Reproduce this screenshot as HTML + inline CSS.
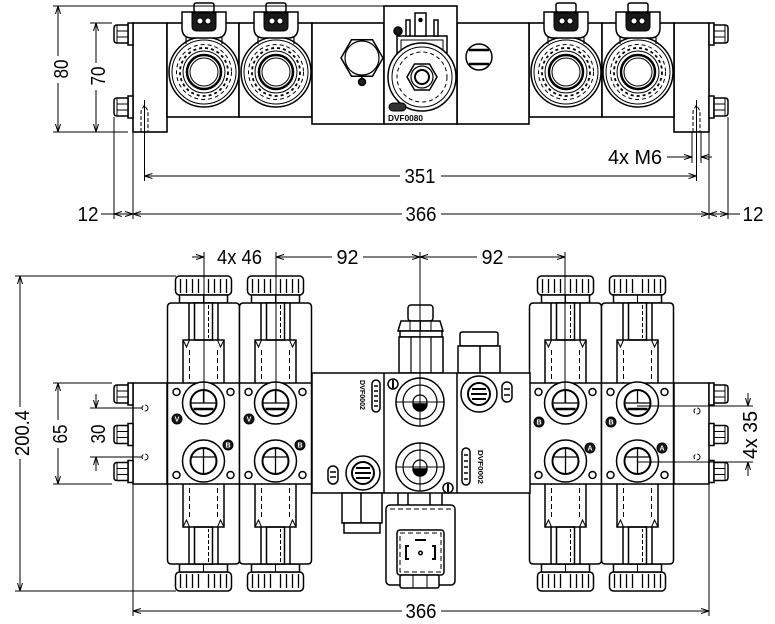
<!DOCTYPE html>
<html><head><meta charset="utf-8"><style>
html,body{margin:0;padding:0;background:#fff;}
svg{display:block;}
text{font-family:"Liberation Sans",Arial,sans-serif;fill:#000;stroke:none;}
</style></head><body>
<svg width="775" height="624" viewBox="0 0 775 624" xmlns="http://www.w3.org/2000/svg">
<defs>
<marker id="ar" viewBox="0 0 8 6" refX="8" refY="3" markerWidth="8" markerHeight="6" markerUnits="userSpaceOnUse" orient="auto"><path d="M0,0.5 L8,3 L0,5.5" fill="none" stroke="#000" stroke-width="1"/></marker>

<g id="tc" stroke="#000" fill="none">
 <circle r="35" stroke-width="1.5" fill="#fff"/>
 <circle r="32" stroke-width="1"/>
 <circle r="27.5" stroke-width="1" stroke-dasharray="4 3"/>
 <circle r="24" stroke-width="1.8" stroke-dasharray="3 3"/>
 <circle r="21" stroke-width="1"/>
 <circle r="17" stroke-width="2.5"/>
 <circle r="14" stroke-width="1"/>
 <path d="M-18,-40 V-28 M18,-40 V-28" stroke-width="1.2"/>
 <path d="M-22,-60 H22 V-44 Q22,-34 12,-34 H-12 Q-22,-34 -22,-44 Z" fill="#fff" stroke-width="1.5"/>
 <rect x="-10" y="-69" width="20" height="9" rx="2" fill="#fff" stroke-width="1.5"/>
 <path d="M-12,-59 H12 V-46 Q12,-41 7,-41 H-7 Q-12,-41 -12,-46 Z" fill="#1a1a1a" stroke-width="1"/>
 <circle cx="-4" cy="-51" r="3" fill="#fff" stroke-width="1"/>
 <circle cx="4" cy="-51" r="3" fill="#fff" stroke-width="1"/>
</g>

<g id="nut" stroke="#000" stroke-width="1.5" fill="#fff">
 <rect x="-5" y="-11" width="5" height="22"/>
 <path d="M-5,-9 H-16 Q-19,-9 -19,-6 V6 Q-19,9 -16,9 H-5 Z"/>
 <path d="M-16,-9 V9" stroke-width="1"/>
 <path d="M-16,-3 H-5 M-16,3 H-5" stroke-width="1"/>
</g>

<g id="sol" stroke="#000" stroke-width="1.5" fill="#fff">
 <rect x="-28" y="276" width="56" height="19" rx="4"/>
 <path d="M-23,279 V293 M-17,279 V293 M-11,279 V293 M-5,279 V293 M5,279 V293 M11,279 V293 M17,279 V293 M23,279 V293" stroke-width="1.3"/>
 <rect x="-24" y="295" width="48" height="8"/>
 <line x1="0" y1="295" x2="0" y2="303" stroke-width="1"/>
 <path d="M-36,383 V307 Q-36,303 -32,303 H32 Q36,303 36,307 V383"/>
 <path d="M-14.5,303 V340 M14.5,303 V340"/>
 <rect x="-9" y="303" width="18" height="37"/>
 <line x1="5" y1="305" x2="5" y2="338" stroke-dasharray="4 2" stroke-width="1"/>
 <path d="M-20.5,383 V340 H20.5 V383" fill="none"/>
 <path d="M-20.5,340 L-17,347 L-14,340 M14,340 L17,347 L20.5,340" fill="none" stroke-width="1"/>
 <path d="M-14,350 V383 M14,350 V383" stroke-dasharray="5 3" stroke-width="1"/>
</g>

<g id="bv" stroke="#000" stroke-width="1.5" fill="#fff">
 <use href="#sol"/>
 <use href="#sol" transform="translate(0,867) scale(1,-1)"/>
 <rect x="-36" y="383" width="72" height="101"/>
 <circle cx="-27" cy="392" r="3.5"/>
 <circle cx="27" cy="392" r="3.5"/>
 <circle cx="-27" cy="475" r="3.5"/>
 <circle cx="27" cy="475" r="3.5"/>
 <circle cx="0" cy="403" r="21"/>
 <circle cx="0" cy="403" r="13" stroke-width="2"/>
 <path d="M-12,403 H12 M0,390 V403" stroke-width="1.3"/>
 <path d="M-10,409 H10" stroke-width="2.5"/>
 <circle cx="0" cy="461" r="21"/>
 <circle cx="0" cy="461" r="13" stroke-width="2"/>
 <path d="M-12,457 H12 M0,448 V474" stroke-width="1.3"/>
</g>
</defs>

<rect width="775" height="624" fill="#fff"/>

<!-- ================= TOP VIEW ================= -->
<g fill="#fff" stroke="#000" stroke-width="1.6">
 <rect x="133" y="23" width="34" height="109"/>
 <rect x="674" y="23" width="35" height="109"/>
 <rect x="167" y="23" width="72" height="94"/>
 <rect x="239" y="23" width="73" height="94"/>
 <rect x="529" y="23" width="73" height="94"/>
 <rect x="602" y="23" width="72" height="94"/>
 <rect x="312" y="23" width="72" height="101"/>
 <rect x="457" y="23" width="72" height="101"/>
 <rect x="384" y="6" width="73" height="118"/>
</g>
<use href="#tc" transform="translate(204,72)"/>
<use href="#tc" transform="translate(276,72)"/>
<use href="#tc" transform="translate(566,72)"/>
<use href="#tc" transform="translate(638,72)"/>

<use href="#nut" transform="translate(133,34)"/>
<use href="#nut" transform="translate(133,107)"/>
<use href="#nut" transform="translate(709,34) scale(-1,1)"/>
<use href="#nut" transform="translate(709,107) scale(-1,1)"/>

<g fill="none" stroke="#000" stroke-width="1">
 <path d="M141,132 V111 L144.5,105 L148,111 V132" stroke-dasharray="4 2"/>
 <path d="M693,132 V111 L696.5,105 L700,111 V132" stroke-dasharray="4 2"/>
</g>

<!-- left hex -->
<g stroke="#000" fill="#fff" stroke-width="1.5">
 <polygon points="383,58 372.5,39.8 351.5,39.8 341,58 351.5,76.2 372.5,76.2"/>
 <circle cx="362" cy="58" r="17" stroke-width="1.2"/>
 <line x1="362" y1="76" x2="362" y2="80"/>
 <circle cx="362" cy="82" r="3.5" fill="#222"/>
</g>
<!-- right oval -->
<g stroke="#000" fill="#fff" stroke-width="1.5">
 <circle cx="479" cy="57" r="13"/>
 <path d="M469,50 H489 M469,64 H489" stroke-width="2.5"/>
</g>
<!-- center solenoid top -->
<g stroke="#000" fill="#fff" stroke-width="1.5">
 <path d="M397,62 V36 H447 V62" fill="none"/>
 <path d="M401,58 V40 H443 V58" fill="none" stroke-width="1"/>
 <rect x="406" y="20" width="4" height="16"/>
 <rect x="434" y="20" width="4" height="16"/>
 <rect x="415" y="13" width="11" height="23"/>
 <circle cx="420.5" cy="20" r="1.5" fill="#000"/>
 <circle cx="398" cy="31" r="4" fill="#1a1a1a"/>
 <circle cx="422" cy="77" r="34"/>
 <circle cx="422" cy="77" r="30" stroke-width="1"/>
 <circle cx="422" cy="77" r="25" stroke-width="1" stroke-dasharray="4 3"/>
 <polygon points="437,77 429.5,64 414.5,64 407,77 414.5,90 429.5,90"/>
 <circle cx="422" cy="77" r="11" stroke-width="1.2"/>
 <circle cx="422" cy="77" r="7" stroke-width="2"/>
 <rect x="389" y="103" width="17" height="8" rx="4" fill="#333" stroke-width="1"/>
</g>
<text x="388" y="121" font-size="8" font-weight="bold" textLength="35" lengthAdjust="spacingAndGlyphs">DVF0080</text>

<!-- top view dims -->
<g fill="none" stroke="#000" stroke-width="1">
 <line x1="53" y1="6" x2="384" y2="6"/>
 <line x1="53" y1="132" x2="128" y2="132"/>
 <line x1="90" y1="23" x2="112" y2="23"/>
 <line x1="58" y1="56" x2="58" y2="6" marker-end="url(#ar)"/>
 <line x1="58" y1="83" x2="58" y2="132" marker-end="url(#ar)"/>
 <line x1="96" y1="63" x2="96" y2="23" marker-end="url(#ar)"/>
 <line x1="96" y1="90" x2="96" y2="132" marker-end="url(#ar)"/>
 <line x1="144.5" y1="100" x2="144.5" y2="181"/>
 <line x1="133" y1="132" x2="133" y2="219"/>
 <line x1="114" y1="117" x2="114" y2="219"/>
 <line x1="696.5" y1="100" x2="696.5" y2="181"/>
 <line x1="692" y1="132" x2="692" y2="163"/>
 <line x1="701" y1="132" x2="701" y2="163"/>
 <line x1="709" y1="132" x2="709" y2="219"/>
 <line x1="728" y1="117" x2="728" y2="219"/>
 <line x1="400" y1="176" x2="144.5" y2="176" marker-end="url(#ar)"/>
 <line x1="441" y1="176" x2="696.5" y2="176" marker-end="url(#ar)"/>
 <line x1="402" y1="214" x2="133" y2="214" marker-end="url(#ar)"/>
 <line x1="441" y1="214" x2="709" y2="214" marker-end="url(#ar)"/>
 <line x1="101" y1="214" x2="114" y2="214"/>
 <line x1="124" y1="214" x2="114" y2="214" marker-end="url(#ar)"/>
 <line x1="124" y1="214" x2="133" y2="214" marker-end="url(#ar)"/>
 <line x1="718" y1="214" x2="709" y2="214" marker-end="url(#ar)"/>
 <line x1="718" y1="214" x2="728" y2="214" marker-end="url(#ar)"/>
 <line x1="728" y1="214" x2="740" y2="214"/>
 <line x1="667" y1="157" x2="692" y2="157" marker-end="url(#ar)"/>
 <line x1="712" y1="157" x2="701" y2="157" marker-end="url(#ar)"/>
</g>
<g font-size="20">
 <text x="62" y="69" transform="rotate(-90 62 69)" text-anchor="middle" dominant-baseline="central" textLength="19" lengthAdjust="spacingAndGlyphs">80</text>
 <text x="99" y="76" transform="rotate(-90 99 76)" text-anchor="middle" dominant-baseline="central" textLength="19" lengthAdjust="spacingAndGlyphs">70</text>
 <text x="420" y="183" text-anchor="middle" textLength="31" lengthAdjust="spacingAndGlyphs">351</text>
 <text x="421" y="221" text-anchor="middle" textLength="31" lengthAdjust="spacingAndGlyphs">366</text>
 <text x="88" y="221" text-anchor="middle" textLength="21" lengthAdjust="spacingAndGlyphs">12</text>
 <text x="753" y="221" text-anchor="middle" textLength="21" lengthAdjust="spacingAndGlyphs">12</text>
 <text x="635" y="164" text-anchor="middle" textLength="54" lengthAdjust="spacingAndGlyphs">4x M6</text>
</g>

<!-- ================= BOTTOM VIEW ================= -->
<use href="#bv" transform="translate(203.5,0)"/>
<use href="#bv" transform="translate(275.5,0)"/>
<use href="#bv" transform="translate(565.5,0)"/>
<use href="#bv" transform="translate(637.5,0)"/>

<g stroke="#000" stroke-width="1.5" fill="#fff">
 <rect x="133" y="383" width="34" height="101"/>
 <rect x="674" y="383" width="35" height="101"/>
</g>
<use href="#nut" transform="translate(133,394)"/>
<use href="#nut" transform="translate(133,434.5)"/>
<use href="#nut" transform="translate(133,471.5)"/>
<use href="#nut" transform="translate(709,394) scale(-1,1)"/>
<use href="#nut" transform="translate(709,434.5) scale(-1,1)"/>
<use href="#nut" transform="translate(709,471.5) scale(-1,1)"/>

<!-- markers -->
<g stroke="#000" stroke-width="1" fill="#1a1a1a">
 <circle cx="177" cy="419" r="5"/><circle cx="249" cy="419" r="5"/>
 <circle cx="228" cy="445" r="5"/><circle cx="300" cy="445" r="5"/>
 <circle cx="539" cy="422" r="5"/><circle cx="611" cy="422" r="5"/>
 <circle cx="590" cy="448" r="5"/><circle cx="662" cy="448" r="5"/>
</g>
<g font-size="7" font-weight="bold" text-anchor="middle">
 <text x="177" y="421.5" style="fill:#fff">V</text><text x="249" y="421.5" style="fill:#fff">V</text>
 <text x="228" y="447.5" style="fill:#fff">B</text><text x="300" y="447.5" style="fill:#fff">B</text>
 <text x="539" y="424.5" style="fill:#fff">B</text><text x="611" y="424.5" style="fill:#fff">B</text>
 <text x="590" y="450.5" style="fill:#fff">A</text><text x="662" y="450.5" style="fill:#fff">A</text>
</g>

<!-- center block fittings -->
<g stroke="#000" stroke-width="1.5" fill="#fff">
 <rect x="408" y="305" width="25" height="16" rx="3"/>
 <path d="M398,331 L401,321 H440 L443,331 Z"/>
 <path d="M410,321 V331 M420.5,321 V331 M431,321 V331" stroke-width="1"/>
 <rect x="400" y="331" width="42" height="6"/>
 <rect x="399" y="337" width="44" height="36"/>
 <path d="M411,337 V373 M431,337 V373" stroke-width="1.2"/>
 <rect x="460" y="332" width="38" height="14" rx="2"/>
 <rect x="458" y="346" width="42" height="27"/>
 <line x1="480" y1="346" x2="480" y2="373"/>

 <rect x="312" y="373" width="218" height="120"/>
 <line x1="384" y1="373" x2="384" y2="493"/>
 <line x1="457" y1="373" x2="457" y2="493"/>

 <!-- center ports -->
 <circle cx="420" cy="402" r="24"/>
 <circle cx="420" cy="402" r="17" stroke-width="1.2"/>
 <circle cx="420" cy="402" r="7" stroke-width="1.2"/>
 <path d="M413,404 A7,7 0 0 0 427,404 Z" fill="#000"/>
 <path d="M396,402 H444" stroke-width="1"/>
 <circle cx="420" cy="467" r="24"/>
 <circle cx="420" cy="467" r="17" stroke-width="1.2"/>
 <circle cx="420" cy="467" r="7" stroke-width="1.2"/>
 <path d="M413,469 A7,7 0 0 0 427,469 Z" fill="#000"/>
 <path d="M396,467 H444 M420,443 V491" stroke-width="1"/>
 <circle cx="393" cy="384" r="5"/>
 <path d="M393,380 V388" stroke-width="2"/>
 <circle cx="448" cy="488" r="5"/>
 <path d="M448,484 V492" stroke-width="2"/>

 <!-- left-center -->
 <rect x="372" y="380" width="8" height="32" rx="4"/>
 <path d="M374,386 H378 M374,391 H378 M374,396 H378 M374,401 H378 M374,406 H378" stroke-width="1.5"/>
 <circle cx="363" cy="473" r="17"/>
 <circle cx="363" cy="473" r="11" stroke-width="2"/>
 <path d="M356,468 H370 M355,473 H371 M356,478 H370" stroke-width="2"/>
 <rect x="328" y="466" width="10" height="18" rx="5"/>
 <path d="M330,472 H336 M330,477 H336" stroke-width="1.5"/>

 <!-- right-center -->
 <circle cx="479" cy="394" r="18"/>
 <circle cx="479" cy="394" r="11" stroke-width="2"/>
 <path d="M472,389 H486 M471,394 H487 M472,399 H486" stroke-width="2"/>
 <rect x="502" y="382" width="10" height="20" rx="5"/>
 <path d="M504,389 H510 M504,395 H510" stroke-width="1.5"/>
 <rect x="462" y="448" width="8" height="37" rx="4"/>
 <path d="M464,455 H468 M464,461 H468 M464,467 H468 M464,473 H468 M464,479 H468" stroke-width="1.5"/>

 <!-- lower left fitting -->
 <rect x="342" y="493" width="40" height="30"/>
 <line x1="361" y1="493" x2="361" y2="523"/>
 <rect x="344" y="523" width="36" height="10"/>

 <!-- lower coil -->
 <path d="M398,493 V505 M408,493 V505 M430,493 V505 M442,493 V505"/>
 <rect x="386" y="505" width="69" height="80" rx="4"/>
 <line x1="390" y1="509" x2="451" y2="509" stroke-dasharray="5 3" stroke-width="1"/>
 <rect x="397" y="530" width="47" height="45" rx="3"/>
 <rect x="400" y="533" width="41" height="39" stroke-dasharray="5 3" fill="none" stroke-width="1"/>
 <line x1="415" y1="540" x2="426" y2="540" stroke-width="2"/>
 <path d="M409,546 H406 V559 H409 M432,546 H435 V559 H432" stroke-width="2" fill="none"/>
 <circle cx="420.5" cy="553" r="1.8"/>
 <rect x="400" y="575" width="39" height="13" rx="2"/>
 <path d="M413,575 V588 M427,575 V588" stroke-width="1"/>
</g>
<text x="360" y="395" transform="rotate(90 360 395)" text-anchor="middle" font-size="7.5" font-weight="bold" textLength="30" lengthAdjust="spacingAndGlyphs">DVF0002</text>
<text x="478" y="467" transform="rotate(90 478 467)" text-anchor="middle" font-size="7.5" font-weight="bold" textLength="34" lengthAdjust="spacingAndGlyphs">DVF0002</text>

<!-- bottom view dims -->
<g fill="none" stroke="#000" stroke-width="1">
 <line x1="15" y1="276" x2="176" y2="276"/>
 <line x1="15" y1="591" x2="176" y2="591"/>
 <line x1="20" y1="407" x2="20" y2="276" marker-end="url(#ar)"/>
 <line x1="20" y1="459" x2="20" y2="591" marker-end="url(#ar)"/>
 <line x1="53" y1="383" x2="112" y2="383"/>
 <line x1="53" y1="484" x2="112" y2="484"/>
 <line x1="58" y1="420" x2="58" y2="383" marker-end="url(#ar)"/>
 <line x1="58" y1="448" x2="58" y2="484" marker-end="url(#ar)"/>
 <line x1="90" y1="408" x2="142" y2="408"/>
 <line x1="90" y1="457" x2="142" y2="457"/>
 <line x1="96" y1="394" x2="96" y2="408" marker-end="url(#ar)"/>
 <line x1="96" y1="471" x2="96" y2="457" marker-end="url(#ar)"/>
 <circle cx="145" cy="408" r="3" stroke-dasharray="5 2"/>
 <circle cx="145" cy="457" r="3" stroke-dasharray="5 2"/>
 <circle cx="697" cy="411" r="3" stroke-dasharray="5 2"/>
 <circle cx="697" cy="457" r="3" stroke-dasharray="5 2"/>

 <line x1="204" y1="252" x2="204" y2="403"/>
 <line x1="276" y1="252" x2="276" y2="403"/>
 <line x1="420" y1="252" x2="420" y2="426"/>
 <line x1="565" y1="252" x2="565" y2="403"/>
 <line x1="192" y1="257" x2="204" y2="257" marker-end="url(#ar)"/>
 <line x1="332" y1="257" x2="276" y2="257" marker-end="url(#ar)"/>
 <line x1="363" y1="257" x2="420" y2="257" marker-end="url(#ar)"/>
 <line x1="477" y1="257" x2="420" y2="257" marker-end="url(#ar)"/>
 <line x1="508" y1="257" x2="565" y2="257" marker-end="url(#ar)"/>

 <line x1="637" y1="406" x2="753" y2="406"/>
 <line x1="637" y1="462" x2="753" y2="462"/>
 <line x1="748" y1="393" x2="748" y2="406" marker-end="url(#ar)"/>
 <line x1="748" y1="476" x2="748" y2="462" marker-end="url(#ar)"/>

 <line x1="133" y1="484" x2="133" y2="616"/>
 <line x1="709" y1="484" x2="709" y2="616"/>
 <line x1="402" y1="611" x2="133" y2="611" marker-end="url(#ar)"/>
 <line x1="441" y1="611" x2="709" y2="611" marker-end="url(#ar)"/>
</g>
<g font-size="20">
 <text x="23" y="433" transform="rotate(-90 23 433)" text-anchor="middle" dominant-baseline="central" textLength="46" lengthAdjust="spacingAndGlyphs">200.4</text>
 <text x="61" y="434" transform="rotate(-90 61 434)" text-anchor="middle" dominant-baseline="central" textLength="19" lengthAdjust="spacingAndGlyphs">65</text>
 <text x="99" y="434" transform="rotate(-90 99 434)" text-anchor="middle" dominant-baseline="central" textLength="19" lengthAdjust="spacingAndGlyphs">30</text>
 <text x="751" y="435" transform="rotate(-90 751 435)" text-anchor="middle" dominant-baseline="central" textLength="48" lengthAdjust="spacingAndGlyphs">4x 35</text>
 <text x="239.5" y="264" text-anchor="middle" textLength="45" lengthAdjust="spacingAndGlyphs">4x 46</text>
 <text x="347.5" y="264" text-anchor="middle" textLength="22" lengthAdjust="spacingAndGlyphs">92</text>
 <text x="492.5" y="264" text-anchor="middle" textLength="22" lengthAdjust="spacingAndGlyphs">92</text>
 <text x="421" y="618" text-anchor="middle" textLength="31" lengthAdjust="spacingAndGlyphs">366</text>
</g>
</svg>
</body></html>
